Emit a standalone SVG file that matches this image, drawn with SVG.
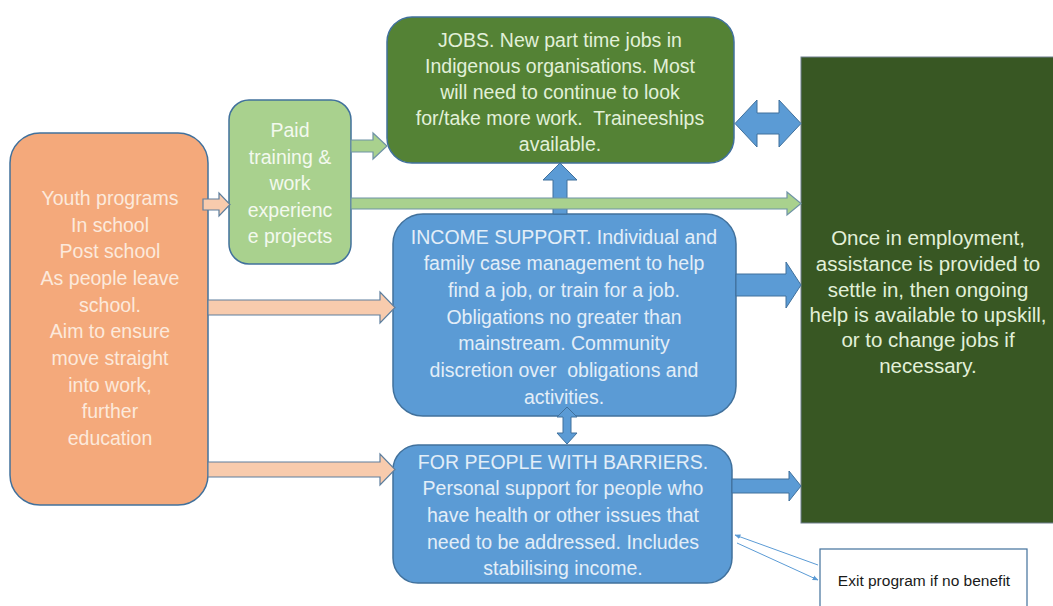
<svg xmlns="http://www.w3.org/2000/svg" width="1053" height="606" viewBox="0 0 1053 606">
<style>
text{font-family:"Liberation Sans",Arial,sans-serif;font-size:19.5px;text-anchor:middle;white-space:pre}
.box{stroke:#41719C;stroke-width:1.5}
.org{fill:#F4A97B}
.lg{fill:#A9D18E}
.jg{fill:#548235}
.dg{fill:#385723}
.bl{fill:#5B9BD5}
.t-o{fill:#FCE9DC}
.t-lg{fill:#F3F9EE}
.t-g{fill:#E2F0D9}
.t-b{fill:#E3EEF8}
.big{font-size:20.5px}
.a-o{fill:#F8CBAD;stroke:#5E7F9E;stroke-width:1.2}
.a-g{fill:#A9D18E;stroke:#6F93A6;stroke-width:1.2}
.a-b{fill:#5B9BD5;stroke:#41719C;stroke-width:1}
.thin{stroke:#5B9BD5;stroke-width:1;fill:none;marker-end:url(#ah)}
</style>
<defs>
<marker id="ah" viewBox="0 0 10 10" refX="9" refY="5" markerWidth="6" markerHeight="6" orient="auto" markerUnits="userSpaceOnUse"><path d="M0,1 L10,5 L0,9 z" fill="#5B9BD5"/></marker>
</defs>
<rect width="1053" height="606" fill="#FFFFFF"/>

<g id="youth">
<rect class="box org" x="10" y="133" width="198" height="372" rx="30"/>
<text class="t-o" x="110" y="205">Youth programs</text>
<text class="t-o" x="110" y="232">In school</text>
<text class="t-o" x="110" y="258">Post school</text>
<text class="t-o" x="110" y="285">As people leave</text>
<text class="t-o" x="110" y="312">school.</text>
<text class="t-o" x="110" y="338">Aim to ensure</text>
<text class="t-o" x="110" y="365">move straight</text>
<text class="t-o" x="110" y="392">into work,</text>
<text class="t-o" x="110" y="418">further</text>
<text class="t-o" x="110" y="445">education</text>
</g>

<g id="paid">
<rect class="box lg" x="229" y="100" width="122" height="164" rx="20"/>
<text class="t-lg" x="290" y="137">Paid</text>
<text class="t-lg" x="290" y="164">training &amp;</text>
<text class="t-lg" x="290" y="190">work</text>
<text class="t-lg" x="290" y="217">experienc</text>
<text class="t-lg" x="290" y="243">e projects</text>
</g>

<g id="jobs">
<rect class="box jg" x="387" y="17" width="347" height="146" rx="25"/>
<text class="t-g" x="560" y="47">JOBS. New part time jobs in</text>
<text class="t-g" x="560" y="73">Indigenous organisations. Most</text>
<text class="t-g" x="560" y="99">will need to continue to look</text>
<text class="t-g" x="560" y="125">for/take more work.  Traineeships</text>
<text class="t-g" x="560" y="151">available.</text>
</g>

<g id="income">
<rect class="box bl" x="393" y="214" width="343" height="202" rx="30"/>
<text class="t-b" x="564" y="244">INCOME SUPPORT. Individual and</text>
<text class="t-b" x="564" y="270">family case management to help</text>
<text class="t-b" x="564" y="297">find a job, or train for a job.</text>
<text class="t-b" x="564" y="324">Obligations no greater than</text>
<text class="t-b" x="564" y="350">mainstream. Community</text>
<text class="t-b" x="564" y="377">discretion over  obligations and</text>
<text class="t-b" x="564" y="404">activities.</text>
</g>

<g id="barriers">
<rect class="box bl" x="393" y="445" width="339" height="138" rx="25"/>
<text class="t-b" x="563" y="469">FOR PEOPLE WITH BARRIERS.</text>
<text class="t-b" x="563" y="495">Personal support for people who</text>
<text class="t-b" x="563" y="522">have health or other issues that</text>
<text class="t-b" x="563" y="549">need to be addressed. Includes</text>
<text class="t-b" x="563" y="575">stabilising income.</text>
</g>

<g id="employment">
<rect class="dg" x="801" y="57" width="260" height="466" stroke="#6E7F8E" stroke-width="1"/>
<text class="t-g big" x="928" y="245">Once in employment,</text>
<text class="t-g big" x="928" y="271">assistance is provided to</text>
<text class="t-g big" x="928" y="297">settle in, then ongoing</text>
<text class="t-g big" x="928" y="322">help is available to upskill,</text>
<text class="t-g big" x="928" y="347">or to change jobs if</text>
<text class="t-g big" x="928" y="373">necessary.</text>
</g>

<g id="exit">
<rect x="820" y="549" width="207" height="70" fill="#FFFFFF" stroke="#41719C" stroke-width="1.2"/>
<text x="924" y="586" style="font-size:15.5px;fill:#1a1a1a">Exit program if no benefit</text>
</g>

<g id="connectors">
<polygon class="a-o" points="203,199 219,199 219,193 230,204.5 219,216 219,210 203,210"/>
<polygon class="a-o" points="208,300 380,300 380,292 395,307.5 380,323 380,315 208,315"/>
<polygon class="a-o" points="208,462 380,462 380,454 395,469.5 380,485 380,477 208,477"/>
<polygon class="a-b" points="560,163 577,180 567,180 567,214 553,214 553,180 543,180"/>
<polygon class="a-g" points="351,140 373,140 373,133 387,146 373,159 373,152 351,152"/>
<polygon class="a-g" points="351,198 787,198 787,192 801,203.5 787,215 787,209 351,209"/>
<polygon class="a-b" points="735,123.5 757,100 757,113 779,113 779,100 801,123.5 779,147 779,134 757,134 757,147"/>
<polygon class="a-b" points="736,274 786,274 786,262 801,285 786,308 786,296 736,296"/>
<polygon class="a-b" points="567,407 577,417 571,417 571,433 577,433 567,444 557,433 563,433 563,417 557,417"/>
<polygon class="a-b" points="732,479 789,479 789,471 801,486 789,501 789,493 732,493"/>
<line class="thin" x1="818" y1="565" x2="735" y2="535"/>
<line class="thin" x1="737" y1="543" x2="818" y2="580"/>
</g>
</svg>
